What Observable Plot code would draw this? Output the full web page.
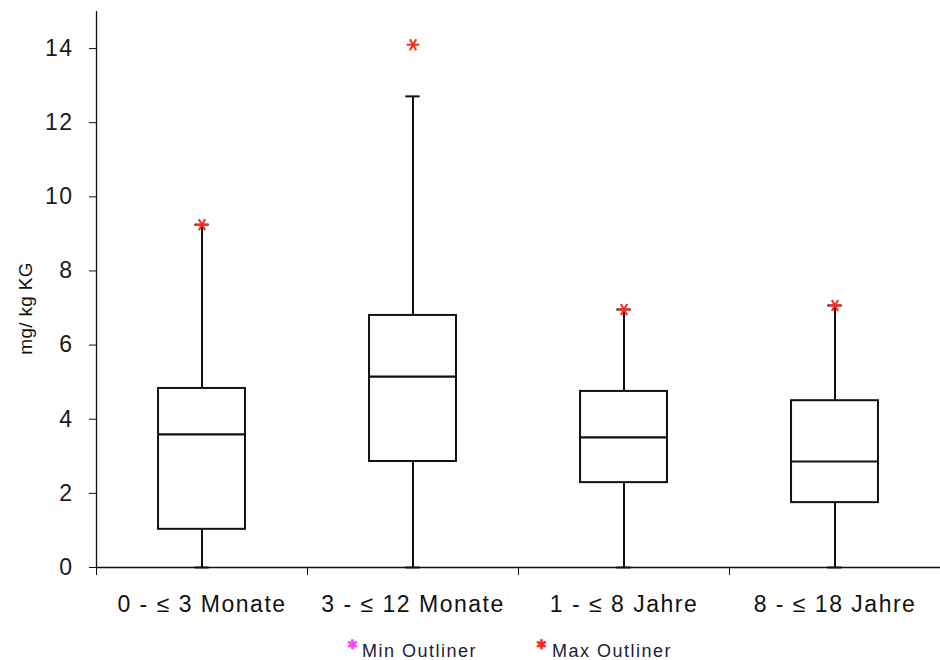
<!DOCTYPE html>
<html>
<head>
<meta charset="utf-8">
<script src="https://cdn.jsdelivr.net/npm/d3@7"></script>
<script src="https://cdn.jsdelivr.net/npm/@observablehq/plot@0.6"></script>
<style>
  body { margin: 0; background: #fff; font-family: "Liberation Sans", Arial, sans-serif; }
  #legend { position: relative; height: 35px; font-size: 18px; color: #1c1c3c; letter-spacing: 1.5px; }
  #legend span { position: absolute; top: 16px; }
  .mk { font-size: 13px; font-weight: bold; }
  #chart g[aria-label="x-axis tick label"] text { letter-spacing: 1.5px; }
  #chart g[aria-label="y-axis tick label"] text { letter-spacing: 1.5px; }
  #chart g[aria-label="text"] text { letter-spacing: 0.3px; }
</style>
</head>
<body>
<div id="chart"></div>
<div id="legend">
  <span style="left:347px;top:12px" class="mk"><span style="position:static;color:#ff44ff">✱</span></span>
  <span style="left:362px">Min Outliner</span>
  <span style="left:536px;top:12px" class="mk"><span style="position:static;color:#ff2a1a">✱</span></span>
  <span style="left:552px">Max Outliner</span>
</div>
<script>
const categories = ["0 - ≤ 3 Monate", "3 - ≤ 12 Monate", "1 - ≤ 8 Jahre", "8 - ≤ 18 Jahre"];
const whiskerLow = [0, 0, 0, 0];
const q1 = [1.03, 2.86, 2.29, 1.75];
const median = [3.59, 5.15, 3.51, 2.86];
const q3 = [4.83, 6.80, 4.75, 4.50];
const whiskerHigh = [9.25, 12.71, 6.96, 7.07];
const maxOutlier = [9.25, 14.10, 6.96, 7.07];
const yTicks = [0, 2, 4, 6, 8, 10, 12, 14];

const data = categories.map((c, i) => ({
  cat: c, pos: i + 0.5,
  lo: whiskerLow[i], q1: q1[i], med: median[i], q3: q3[i], hi: whiskerHigh[i], out: maxOutlier[i]
}));

const hw = 0.206, cw = 0.034;

const chart = Plot.plot({
  width: 940,
  height: 625,
  marginLeft: 96,
  marginRight: 0,
  marginTop: 11,
  marginBottom: 58,
  style: { fontFamily: "Liberation Sans, Arial, sans-serif", background: "#fff" },
  x: { type: "linear", domain: [0, 4] },
  y: { domain: [0, 15] },
  marks: [
    Plot.ruleX(data, { x: "pos", y1: "lo", y2: "q1", stroke: "#111", strokeWidth: 2 }),
    Plot.ruleX(data, { x: "pos", y1: "q3", y2: "hi", stroke: "#111", strokeWidth: 2 }),
    Plot.ruleY(data, { y: "hi", x1: d => d.pos - cw, x2: d => d.pos + cw, stroke: "#111", strokeWidth: 2 }),
    Plot.ruleY(data, { y: "lo", x1: d => d.pos - cw, x2: d => d.pos + cw, stroke: "#111", strokeWidth: 2 }),
    Plot.rect(data, { x1: d => d.pos - hw, x2: d => d.pos + hw, y1: "q1", y2: "q3", fill: "#fff", stroke: "#111", strokeWidth: 2 }),
    Plot.ruleY(data, { y: "med", x1: d => d.pos - hw, x2: d => d.pos + hw, stroke: "#111", strokeWidth: 2.2 }),
    Plot.dot(data, { x: "pos", y: "out", symbol: "asterisk", r: 6, rotate: 90, stroke: "#ff2a1a", strokeWidth: 2 }),
    Plot.axisY({ ticks: yTicks, tickSize: 7, tickPadding: 16, fontSize: 23, label: null, stroke: "#111", fill: "#1a1a1a" }),
    Plot.axisX({ ticks: [0, 1, 2, 3, 4], tickSize: 8, tickFormat: () => "", label: null, stroke: "#111" }),
    Plot.axisX({ ticks: data.map(d => d.pos), tickSize: 0, tickPadding: 28, tickFormat: (v) => categories[Math.floor(v)], fontSize: 23, label: null, fill: "#111" }),
    Plot.ruleX([0], { stroke: "#111", strokeWidth: 1.3 }),
    Plot.ruleY([0], { stroke: "#111", strokeWidth: 1.3 }),
    Plot.text(["mg/ kg KG"], { frameAnchor: "left", textAnchor: "middle", dx: -71, dy: 19, rotate: -90, fontSize: 19, fill: "#111" })
  ]
});
document.getElementById("chart").appendChild(chart);
</script>
</body>
</html>
